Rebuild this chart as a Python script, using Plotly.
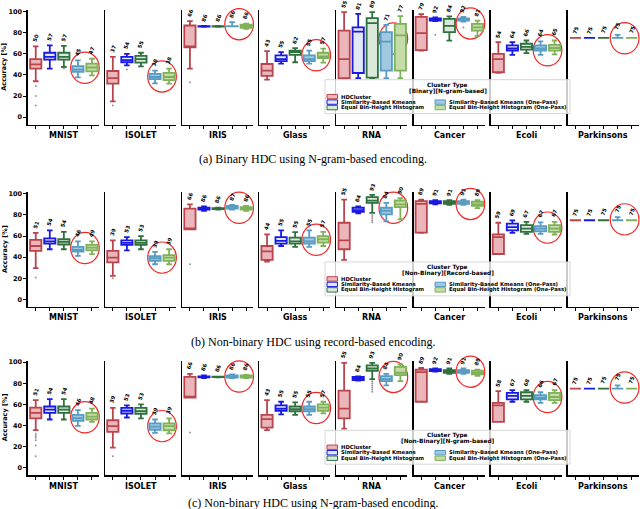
import plotly.graph_objects as go

W, H = 640, 509

datasets = ["MNIST", "ISOLET", "IRIS", "Glass", "RNA", "Cancer", "Ecoli", "Parkinsons"]
methods = ["HDCluster", "Similarity-Based Kmeans", "Equal Bin-Height Histogram",
           "Similarity-Based Kmeans (One-Pass)", "Equal Bin-Height Histogram (One-Pass)"]
row_titles = ["[Binary][N-gram-based]", "[Non-Binary][Record-based]", "[Non-Binary][N-gram-based]"]
captions = ["(a) Binary HDC using N-gram-based encoding.",
            "(b) Non-binary HDC using record-based encoding.",
            "(c) Non-binary HDC using N-gram-based encoding."]
y_ticks = [0, 20, 40, 60, 80, 100]

# each tuple: (lower whisker, q1, median, q3, upper whisker), order = methods
A_MNIST = [(34, 46, 50, 55, 67), (46, 54.5, 57, 61, 68), (47.5, 54.5, 57, 61, 67.5), (37.7, 42.8, 45, 48.4, 53.8), (39.6, 43.4, 47, 50.6, 55.3)]
A_ISOLET = [(15, 31.8, 37, 43.7, 57), (49, 52, 54, 57, 60), (48, 51.6, 55, 58, 61), (32, 36, 38, 41, 44), (31.8, 35, 38, 42, 46)]
A_IRIS = [(46, 66, 66, 86.8, 91), (85.6, 85.8, 86, 86.2, 86.4), (85.6, 85.8, 86, 86.2, 86.4), (86, 86, 86, 86.2, 90), (83.5, 84.5, 86, 87.5, 88.5)]
A_GLASS = [(35.5, 39, 44, 50.3, 62.6), (50.6, 53, 55, 58.5, 61.6), (52, 59, 61.5, 63, 65.4), (50.6, 53, 55, 58.5, 63), (51.6, 56, 57.5, 61, 64.8)]
A_RNA = [(36.5, 37, 55, 82, 99.4), (37, 41.8, 81, 85, 97.8), (37, 37.5, 89, 93.7, 99.4), (37, 44, 71.5, 80.5, 87.4), (37, 44, 77.4, 88.4, 95.6)]
A_CANCER = [(63, 63.5, 79.5, 95, 97.5), (91, 91.5, 92, 93.5, 94.5), (72.5, 80.5, 86.5, 93, 95.5), (90.5, 91.5, 92, 93.5, 95), (77, 82, 85, 88.4, 91.5)]
A_ECOLI = [(42, 42.5, 55, 60, 71), (59, 63, 65, 68, 71), (60.7, 64, 66.5, 69.5, 72.6), (59, 63, 65, 68, 71.7), (59.5, 63, 65.5, 68.5, 72.6)]
A_PARK = [(75, 75, 75, 75, 75), (75, 75, 75, 75, 75), (75, 75, 75, 75, 75), (75, 75, 75, 75, 78), (75, 75, 75, 75, 75)]
A_labels = [[50, 57, 57, 45, 47], [37, 54, 55, 38, 38], [66, 86, 86, 86, 86], [43, 55, 62, 55, 57],
            [55, 81, 89, 71, 77], [79, 92, 84, 92, 81], [54, 64, 66, 64, 65], [75, 75, 75, 75, 75]]
A_outliers = [(0, 0, [29.5, 20, 11]), (0, 2, [46]), (1, 0, [11]), (1, 1, [45]), (2, 0, [33]),
              (5, 1, [78]), (5, 3, [85])]

B_MNIST = [(29.6, 46, 50.6, 56.3, 63), (47.5, 52.8, 55, 57.9, 65.4), (47.5, 52, 54.5, 57, 64), (41.2, 45.3, 47, 49.7, 55), (42.8, 46.5, 49, 51.6, 55)]
B_ISOLET = [(22.3, 35, 39.5, 46, 56), (46.5, 51.6, 53.5, 56, 59), (47.5, 51.6, 53.5, 56, 60), (33.3, 36.5, 39, 41, 45), (33.3, 36.5, 39.5, 42, 47.5)]
B_IRIS = [(66.4, 66.4, 66.4, 86, 90), (84, 85, 86, 87, 88), (85, 85.6, 86, 86.4, 87), (85, 86, 87, 88.5, 89.5), (84, 85, 86, 87.5, 88.5)]
B_GLASS = [(35.8, 37.4, 45.5, 50.6, 61.6), (50.6, 52.8, 55.5, 59, 65.4), (49.7, 52.8, 55, 58.5, 63.8), (49.7, 52.8, 55, 58.5, 65.4), (50.6, 53.8, 57, 60, 64)]
B_RNA = [(37.4, 47.5, 56, 72.6, 94.6), (81.4, 83, 84.5, 86.8, 88), (82, 91.5, 93.5, 96.9, 99), (74, 80.5, 84, 86.8, 91.5), (75.8, 87.4, 90, 93.7, 96)]
B_CANCER = [(63, 63.2, 90.5, 93, 94.6), (90, 91, 92, 93, 94), (89.5, 90.5, 91.5, 93, 94), (89.5, 90.5, 91.5, 93, 94.5), (86.5, 88.5, 90, 92.5, 94)]
B_ECOLI = [(42.8, 43, 59, 61.6, 72.6), (63, 65.4, 68.5, 71.7, 74.8), (62, 64, 67, 70.4, 73.5), (62, 64.5, 67, 69.5, 73), (61.5, 64, 67, 70.4, 73.5)]
B_PARK = [(75, 75, 75, 75, 75), (75, 75, 75, 75, 75), (75, 75, 75, 75, 75), (75, 75, 75, 75, 78), (75, 75, 75, 75, 75)]
B_labels = [[51, 54, 54, 46, 49], [39, 53, 53, 39, 39], [66, 86, 86, 87, 86], [44, 55, 55, 55, 57],
            [55, 84, 93, 84, 90], [89, 91, 91, 91, 89], [59, 69, 67, 67, 67], [75, 75, 75, 75, 75]]
B_outliers = [(0, 0, [20.8]), (1, 0, [20]), (2, 0, [33.3]), (4, 2, [81, 79, 77, 75, 73])]

C_MNIST = [(35.6, 46.7, 52, 57, 64), (45.7, 52, 55, 58, 65), (45.7, 52, 55, 58, 65), (39.7, 44.5, 47, 50, 54.6), (43.5, 45.7, 48.5, 52, 56)]
C_ISOLET = [(19, 34, 39.4, 45, 56.8), (47.6, 51.4, 54, 56.8, 59), (46.7, 51, 53.5, 56.8, 60), (33, 36, 39, 42, 45.7), (32.5, 35.5, 39.5, 42, 46.7)]
C_IRIS = [(66.4, 66.4, 66.4, 86, 89), (85, 85.6, 86, 86.6, 87.5), (85.6, 85.8, 86, 86.2, 86.4), (85, 85.5, 86.5, 87.5, 88.5), (85, 85.5, 86.5, 87.5, 88)]
C_GLASS = [(35.6, 38, 46, 50, 64), (50.5, 54, 56, 59, 62.5), (50, 53.5, 55.5, 58, 62), (50, 53.5, 55.5, 58, 62.5), (51.5, 54, 57, 60, 62.5)]
C_RNA = [(37, 46.7, 56, 73, 99.4), (82.5, 83, 84.5, 86, 86.5), (84, 91.8, 94, 97, 99.4), (78, 82, 84, 86.8, 89), (82, 87.7, 90, 95.6, 98)]
C_CANCER = [(62.5, 62.5, 90.5, 93, 94.5), (91, 91.5, 92.5, 93.5, 94), (89, 90, 91, 92.5, 94), (89, 90, 91, 92.5, 94), (87, 88.5, 90, 92, 93)]
C_ECOLI = [(43.5, 43.5, 59, 61.5, 72.6), (62.5, 64.7, 68, 71, 73.5), (62.5, 64.7, 68, 71.5, 73.5), (61.5, 64.7, 66.5, 68.8, 71.5), (61.5, 64, 67, 71, 73.5)]
C_PARK = [(75, 75, 75, 75, 75), (75, 75, 75, 75, 75), (75, 75, 75, 75, 75), (75, 75, 75, 75, 78), (75, 75, 75, 75, 75)]
C_labels = [[51, 54, 54, 46, 48], [39, 53, 53, 39, 39], [66, 86, 86, 86, 86], [43, 55, 55, 55, 57],
            [55, 84, 93, 84, 90], [89, 92, 91, 91, 89], [58, 67, 68, 66, 67], [75, 75, 75, 75, 75]]
C_outliers = [(0, 0, [32, 30, 28.5, 26, 21, 11]), (1, 0, [11]), (2, 0, [33.3]), (4, 2, [82, 80, 78, 76, 74, 72])]

# vertical centre (in accuracy units) of the red highlight ellipses, per panel
A_circles = [46.7, 38.5, 88, 58.6, 74.5, 88.7, 63.3, 74.7]
B_circles = [48.6, 39.6, 86.8, 56.5, 86.8, 90.4, 68, 75.8]
C_circles = [47.8, 39.4, 86.4, 56.5, 86, 91, 67, 76]

rows = [
    ([A_MNIST, A_ISOLET, A_IRIS, A_GLASS, A_RNA, A_CANCER, A_ECOLI, A_PARK], A_labels, A_outliers, A_circles),
    ([B_MNIST, B_ISOLET, B_IRIS, B_GLASS, B_RNA, B_CANCER, B_ECOLI, B_PARK], B_labels, B_outliers, B_circles),
    ([C_MNIST, C_ISOLET, C_IRIS, C_GLASS, C_RNA, C_CANCER, C_ECOLI, C_PARK], C_labels, C_outliers, C_circles),
]

# ---------------- styles / layout ----------------
EDGE = ['rgb(186,68,76)', 'rgb(25,25,225)', 'rgb(48,112,62)', 'rgb(88,156,196)', 'rgb(128,176,88)']
FILL = ['rgb(234,182,186)', 'rgb(226,233,246)', 'rgb(218,233,218)', 'rgb(160,200,222)', 'rgb(196,220,168)']
FONT = "DejaVu Sans"
ROW_BOTTOM = [123, 306, 475]
PLOT_H = 115
LEFT0, PITCH, PANEL_W = 28, 77.1, 71
XR = [-0.55, 4.5]
YR = [-7, 101.5]
CAPTION_Y = [158, 341, 503]


def PX(x):
    return x / W


def PY(y):
    return 1 - y / H


fig = go.Figure()
layout = {}
annotations = []
shapes = []

for r, (stats, labels, outliers, circles) in enumerate(rows):
    bottom = ROW_BOTTOM[r]
    top = bottom - PLOT_H
    for c in range(8):
        k = r * 8 + c + 1
        xs = '' if k == 1 else str(k)
        xid, yid = 'x' + xs, 'y' + xs
        x0 = LEFT0 + PITCH * c
        layout['xaxis' + xs] = dict(
            domain=[PX(x0), PX(x0 + PANEL_W)], range=XR, anchor=yid,
            showgrid=False, zeroline=False, showline=True, linecolor='black', linewidth=1.6,
            tickmode='array', tickvals=list(range(5)), ticks='outside', ticklen=3,
            tickwidth=1, tickcolor='black', showticklabels=False, fixedrange=True)
        ya = dict(domain=[PY(bottom), PY(top)], range=YR, anchor=xid,
                  showgrid=False, zeroline=False, showline=True, linecolor='black',
                  linewidth=1.6, fixedrange=True)
        if c == 0:
            ya.update(tickmode='array', tickvals=y_ticks, ticks='outside', ticklen=3,
                      tickwidth=1, tickcolor='black', showticklabels=True,
                      tickfont=dict(family=FONT, size=6.5, color='black', weight='bold'))
        else:
            ya.update(showticklabels=False, ticks='')
        layout['yaxis' + xs] = ya

        for m in range(5):
            lo, q1, med, q3, hi = stats[c][m]
            fig.add_trace(go.Box(
                x=[m], lowerfence=[lo], q1=[q1], median=[med], q3=[q3], upperfence=[hi],
                orientation='v', width=0.8, whiskerwidth=0.5,
                fillcolor=FILL[m], line=dict(color=EDGE[m], width=1.8),
                xaxis=xid, yaxis=yid, showlegend=False, hoverinfo='skip'))
            annotations.append(dict(
                x=m, y=hi, xref=xid, yref=yid, text=str(labels[c][m]), showarrow=False,
                textangle=-70, xanchor='center', yanchor='bottom', yshift=1,
                font=dict(family=FONT, size=5.3, color='black', weight='bold')))

        # red highlight ellipse around the two one-pass methods
        cy = circles[c]
        def dx(v):
            return (v - XR[0]) / (XR[1] - XR[0])
        def dy(v):
            return (v - YR[0]) / (YR[1] - YR[0])
        shapes.append(dict(
            type='circle', xref=xid + ' domain', yref=yid + ' domain', layer='below',
            x0=dx(3.5 - 1.02), x1=dx(3.5 + 1.02), y0=dy(cy - 14.8), y1=dy(cy + 14.8),
            line=dict(color='rgb(240,40,40)', width=1.2), fillcolor='rgba(0,0,0,0)'))

        # dataset name below each panel
        annotations.append(dict(
            x=PX(x0 + PANEL_W / 2), y=PY(bottom + 11), xref='paper', yref='paper',
            text=datasets[c], showarrow=False, xanchor='center', yanchor='middle',
            font=dict(family=FONT, size=8, color='black', weight='bold')))

    for (ci, mi, vals) in outliers:
        k = r * 8 + ci + 1
        xs = '' if k == 1 else str(k)
        fig.add_trace(go.Scatter(
            x=[mi] * len(vals), y=vals, mode='markers',
            marker=dict(size=2, color='rgb(150,150,150)'),
            xaxis='x' + xs, yaxis='y' + xs, showlegend=False, hoverinfo='skip',
            cliponaxis=False))

    # y axis title
    annotations.append(dict(
        x=PX(4.5), y=PY(bottom - PLOT_H / 2), xref='paper', yref='paper',
        text='Accuracy [%]', showarrow=False, textangle=-90,
        xanchor='center', yanchor='middle',
        font=dict(family=FONT, size=6.5, color='black', weight='bold')))

    # custom legend
    T = bottom - 45
    L, R = 325, 570
    shapes.append(dict(type='rect', xref='paper', yref='paper', layer='above',
                       x0=PX(L), x1=PX(R), y0=PY(T + 34), y1=PY(T),
                       fillcolor='rgba(255,255,255,0.8)',
                       line=dict(color='rgb(214,214,214)', width=1)))
    annotations.append(dict(
        x=PX((L + R) / 2), y=PY(T + 5.5), xref='paper', yref='paper', text='Cluster Type',
        showarrow=False, xanchor='center', yanchor='middle',
        font=dict(family=FONT, size=5.8, color='black', weight='bold')))
    annotations.append(dict(
        x=PX((L + R) / 2), y=PY(T + 11.5), xref='paper', yref='paper', text=row_titles[r],
        showarrow=False, xanchor='center', yanchor='middle',
        font=dict(family=FONT, size=5.8, color='black', weight='bold')))
    entry_pos = [(327, T + 17), (327, T + 22.5), (327, T + 28), (435, T + 22.5), (435, T + 28)]
    for m, (ex, ey) in enumerate(entry_pos):
        shapes.append(dict(type='rect', xref='paper', yref='paper', layer='above',
                           x0=PX(ex), x1=PX(ex + 10.5), y0=PY(ey + 2.2), y1=PY(ey - 2.2),
                           fillcolor=FILL[m], line=dict(color=EDGE[m], width=1)))
        annotations.append(dict(
            x=PX(ex + 12), y=PY(ey), xref='paper', yref='paper', text=methods[m],
            showarrow=False, xanchor='left', yanchor='middle',
            font=dict(family=FONT, size=5.3, color='black', weight='bold')))

    # caption
    annotations.append(dict(
        x=PX(313), y=PY(CAPTION_Y[r]), xref='paper', yref='paper', text=captions[r],
        showarrow=False, xanchor='center', yanchor='middle',
        font=dict(family='Liberation Serif', size=12, color='black')))

fig.update_layout(
    width=W, height=H, margin=dict(l=0, r=0, t=0, b=0),
    paper_bgcolor='white', plot_bgcolor='rgba(0,0,0,0)', showlegend=False,
    annotations=annotations, shapes=shapes, **layout)

fig.write_html(
    "out.html",
    config={'displayModeBar': False, 'staticPlot': True},
    post_script="document.body.style.margin='0';document.body.style.overflow='hidden';")
